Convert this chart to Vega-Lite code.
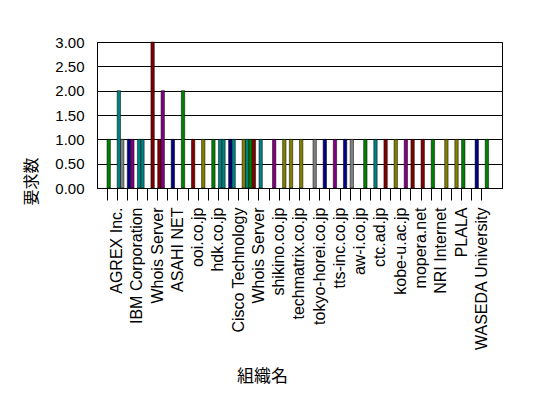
{
  "$schema": "https://vega.github.io/schema/vega-lite/v6.json",
  "autosize": "none",
  "width": 405,
  "height": 146,
  "padding": {"left": 97, "top": 42, "right": 46, "bottom": 210},
  "background": "white",
  "config": {
    "view": {"stroke": "black", "strokeWidth": 1},
    "font": "Liberation Sans"
  },
  "data": {
    "values": [
      {"org": "AGREX Inc.", "sub": 0, "series": "系列1", "n": 1},
      {"org": "#02", "sub": 0, "series": "系列3", "n": 2},
      {"org": "#02", "sub": 1, "series": "系列2", "n": 1},
      {"org": "IBM Corporation", "sub": 0, "series": "系列6", "n": 1},
      {"org": "IBM Corporation", "sub": 1, "series": "系列4", "n": 1},
      {"org": "#04", "sub": 0, "series": "系列3", "n": 1},
      {"org": "#04", "sub": 1, "series": "系列3", "n": 1},
      {"org": "Whois Server", "sub": 1, "series": "系列5", "n": 3},
      {"org": "#06", "sub": 0, "series": "系列5", "n": 1},
      {"org": "#06", "sub": 1, "series": "系列4", "n": 2},
      {"org": "ASAHI NET", "sub": 1, "series": "系列6", "n": 1},
      {"org": "#08", "sub": 1, "series": "系列1", "n": 2},
      {"org": "ooi.co.jp", "sub": 1, "series": "系列5", "n": 1},
      {"org": "#10", "sub": 1, "series": "系列7", "n": 1},
      {"org": "hdk.co.jp", "sub": 1, "series": "系列1", "n": 1},
      {"org": "#12", "sub": 0, "series": "系列3", "n": 1},
      {"org": "#12", "sub": 1, "series": "系列3", "n": 1},
      {"org": "Cisco Technology", "sub": 0, "series": "系列6", "n": 1},
      {"org": "Cisco Technology", "sub": 1, "series": "系列3", "n": 1},
      {"org": "#14", "sub": 1, "series": "系列7", "n": 1},
      {"org": "#14", "sub": 2, "series": "系列3", "n": 1},
      {"org": "Whois Server ", "sub": 0, "series": "系列1", "n": 1},
      {"org": "Whois Server ", "sub": 1, "series": "系列5", "n": 1},
      {"org": "#16", "sub": 0, "series": "系列3", "n": 1},
      {"org": "shikino.co.jp", "sub": 1, "series": "系列4", "n": 1},
      {"org": "#18", "sub": 1, "series": "系列7", "n": 1},
      {"org": "techmatrix.co.jp", "sub": 0, "series": "系列7", "n": 1},
      {"org": "#20", "sub": 0, "series": "系列7", "n": 1},
      {"org": "tokyo-horei.co.jp", "sub": 1, "series": "系列2", "n": 1},
      {"org": "#22", "sub": 1, "series": "系列6", "n": 1},
      {"org": "tts-inc.co.jp", "sub": 1, "series": "系列4", "n": 1},
      {"org": "#24", "sub": 1, "series": "系列6", "n": 1},
      {"org": "aw-i.co.jp", "sub": 0, "series": "系列2", "n": 1},
      {"org": "#26", "sub": 1, "series": "系列1", "n": 1},
      {"org": "ctc.ad.jp", "sub": 1, "series": "系列3", "n": 1},
      {"org": "#28", "sub": 1, "series": "系列5", "n": 1},
      {"org": "kobe-u.ac.jp", "sub": 1, "series": "系列7", "n": 1},
      {"org": "#30", "sub": 1, "series": "系列4", "n": 1},
      {"org": "mopera.net", "sub": 0, "series": "系列5", "n": 1},
      {"org": "#32", "sub": 0, "series": "系列5", "n": 1},
      {"org": "NRI Internet", "sub": 0, "series": "系列1", "n": 1},
      {"org": "#34", "sub": 1, "series": "系列7", "n": 1},
      {"org": "PLALA", "sub": 1, "series": "系列7", "n": 1},
      {"org": "#36", "sub": 0, "series": "系列1", "n": 1},
      {"org": "WASEDA University", "sub": 1, "series": "系列6", "n": 1},
      {"org": "#38", "sub": 1, "series": "系列1", "n": 1}
    ]
  },
  "mark": {"type": "bar", "stroke": "black", "strokeWidth": 0.5},
  "encoding": {
    "x": {
      "field": "org",
      "type": "nominal",
      "sort": null,
      "scale": {"paddingInner": 0, "paddingOuter": 0.99},
      "axis": {
        "title": "組織名",
        "titleFont": "Noto Sans CJK JP",
        "titleFontSize": 17,
        "titleFontWeight": "normal",
        "titleX": 165,
        "titleY": 188,
        "titleBaseline": "middle",
        "titleColor": "black",
        "labelAngle": -90,
        "labelAlign": "right",
        "labelBaseline": "middle",
        "labelFontSize": 16,
        "labelColor": "black",
        "labelPadding": 7,
        "labelOffset": 5,
        "labelExpr": "indexof(datum.label, '#') == 0 ? '' : datum.label",
        "labelOverlap": false,
        "bandPosition": 0,
        "tickSize": 12,
        "tickColor": "black",
        "domainColor": "black",
        "grid": false
      }
    },
    "xOffset": {
      "field": "sub",
      "type": "ordinal",
      "scale": {"domain": [0, 1, 2], "paddingInner": 0, "paddingOuter": 0}
    },
    "y": {
      "field": "n",
      "type": "quantitative",
      "scale": {"domain": [0, 3], "nice": false},
      "axis": {
        "title": "要求数",
        "titleFont": "Noto Sans CJK JP",
        "titleFontSize": 16,
        "titleFontWeight": "normal",
        "titleColor": "black",
        "titleX": -66,
        "titleY": 139,
        "titleBaseline": "middle",
        "values": [0, 0.5, 1, 1.5, 2, 2.5, 3],
        "format": ".2f",
        "labelFontSize": 15,
        "labelColor": "black",
        "labelPadding": 13,
        "ticks": false,
        "grid": true,
        "gridColor": "black",
        "gridOpacity": 1,
        "domainColor": "black"
      }
    },
    "color": {
      "field": "series",
      "type": "nominal",
      "scale": {
        "domain": ["系列1", "系列2", "系列3", "系列4", "系列5", "系列6", "系列7"],
        "range": ["#008000", "#808080", "#008080", "#800080", "#800000", "#000080", "#808000"]
      },
      "legend": null
    }
  }
}
